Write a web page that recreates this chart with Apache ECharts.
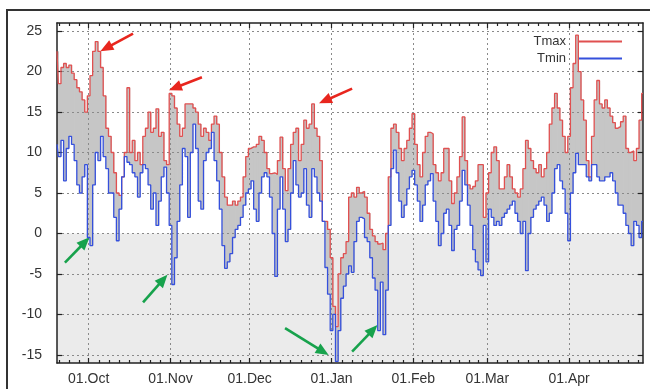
<!DOCTYPE html>
<html><head><meta charset="utf-8">
<script src="https://cdn.jsdelivr.net/npm/echarts@6/dist/echarts.min.js"></script>
<style>html,body{margin:0;padding:0;background:#fff}#c{width:650px;height:389px}</style>
</head><body><div id="c"></div><script>
// daily values, 19 Sep .. 29 Apr (index 0 = 19 Sep)
const tmax = [
  22.5, 18.5, 20.5, 21, 20.5, 20.8, 19.8, 19, 18, 17.5, 16.5, 15,
  17, 19.5, 22.5, 23.7, 22.5, 20.5, 17, 13, 12, 10, 7.5, 5, 4.7, 7, 10, 18, 10, 11.5, 9, 10, 8.5, 12, 13, 15, 12.5, 13, 15.4, 12, 12.5, 9, 8.5,
  17.3, 17, 15.5, 13.5, 12, 13, 16, 16, 16, 15.5, 15, 13.5, 12, 13, 12.5, 11.5, 13.5, 14.5, 13.5, 10, 7, 4.5, 3.5, 3.5, 4, 3.5, 4, 4.5, 7, 9.5,
  10.5, 10.7, 10.7, 11, 12, 11.5, 10, 8, 7.4, 7.5, 7.3, 9, 11.9, 8, 5.3, 8, 11, 12.5, 13, 9, 11, 14, 13, 13.5, 16, 13, 12, 9, 1.5, 1.5, 0.5,
  -3, -9, -11.5, -5, -3, -2.5, -1, 4.5, 5, 4.5, 5.7, 5, 5.2, 4.5, 2.5, 0.5, -0.3, -1, -1.3, -1.2, -2, 0, 7, 13, 13.5, 12.5, 10.5, 9, 10.5, 11.5, 13,
  14.8, 11, 8.5, 7, 10, 12, 12.5, 12.3, 8.5, 7.5, 6.5, 7.5, 10.5, 10.5, 6.5, 3.7, 5, 7, 9.5, 14.4, 9, 6, 5.5, 5.8, 6.5, 8.5, 8.5, 2,
  5, 7.5, 10, 10.7, 9, 5.5, 5.5, 7, 8.5, 7, 5.5, 5, 4.5, 5.5, 8, 11.5, 10.5, 9, 8, 7.5, 8.5, 7, 8, 10, 13.5, 15.5, 17.3, 15.5, 14, 12, 10,
  12, 18, 21, 24.5, 20, 16.5, 14, 9, 7, 12, 16.5, 18.9, 16, 15.5, 16.5, 15.5, 14.5, 13.7, 13, 13.2, 13.8, 14.5, 10.5, 10, 10.2, 9, 10.5, 14, 17.3
];
const tmin = [
  11, 9.5, 11.5, 6.5, 10.5, 12, 11, 9, 6, 5, 7, 8.5,
  -0.5, -1.5, 6, 10, 9, 12, 9.5, 8, 5, 5, 2, -0.9, 3, 7, 9.5, 8.8, 8.5, 7.5, 7, 4.5, 7.5, 8.5, 8, 6, 3, 5, 1, 4, 7, 8.2, 5,
  1, -6.3, -3, 1.5, 6, 10.5, 9.5, 2, 10, 13.5, 10.5, 4, 3, 9, 10, 10.5, 12.5, 9, 6.5, 3, -1.5, -4.3, -3.5, -2.5, -0.5, 0.5, 1, 2, 3.5, 5,
  5.5, 6.5, 3, 1.5, 5, 7, 7.5, 7, 4.5, 0, -5.3, 3, 7, 3, -1, 0.5, 5, 9, 6, 4.5, 5, 8, 3.5, 2, 8, 7, 5, 4, 1.5, -4.2, -7.5,
  -12, -10, -15.8, -12, -8, -6.5, -5, -4, -4.8, -1, 1.5, 2, 1.8, -0.5, -1, -3, -5.5, -7, -12, -6, -12.5, -7, 1, 8, 10.3, 7.5, 4, 2, 3.5, 5.5, 7,
  7.8, 6, 4, 1.5, 3.5, 6, 6.5, 7.4, 4, 1.5, -1.5, 0, 2.5, 3, 1, -2.1, 0.5, 1, 4, 7.8, 6, 3.5, 1, -2, -3.5, -4.5, -5.2, 1,
  -3.5, 3, 2, 1, 1.5, 1, 2, 2.5, 3, 3.5, 4, 2.5, 1.5, 0, 1.5, -4.6, 0, 2, 3, 3.5, 4, 4.5, 3.5, 1.5, 2.5, 5, 8, 8.5, 6.5, 5.5, 2.5,
  -0.9, 5, 7.5, 9.9, 8.5, 8.5, 8.5, 7, 6.5, 8.5, 8.5, 7, 6.5, 6.5, 7, 7, 7.5, 6.5, 5, 3.5, 3.5, 2.5, 1, 0, -1.5, 1.5, 1, -0.5, 1.5
];
const monthTickIdx = [12, 43, 73, 104, 135, 163, 194];
const monthTickLabels = ['01.Oct', '01.Nov', '01.Dec', '01.Jan', '01.Feb', '01.Mar', '01.Apr'];
const yTicks = [-15, -10, -5, 0, 5, 10, 15, 20, 25];
// annotation arrows [[dayIndex, value] tail, [dayIndex, value] head]
const redArrows = [
  [[28.8, 24.7], [18.6, 22.9]],
  [[54.9, 19.3], [44.7, 18.0]],
  [[111.8, 17.9], [101.5, 16.4]]
];
const greenArrows = [
  [[3.0, -3.6], [10.6, -1.05]],
  [[32.6, -8.5], [40.2, -5.7]],
  [[86.4, -11.7], [100.8, -14.6]],
  [[111.8, -14.6], [119.7, -11.9]]
];

const FONT = '"Liberation Sans", Arial, sans-serif';
const AX = '#222';
const xMax = tmax.length - 1;
const days = tmax.map((_, i) => i);
const bounds = [-18].concat(monthTickIdx, [224]);
const minorTicks = [];
for (let m = 0; m < bounds.length - 1; m++) {
  const a = bounds[m], b = bounds[m + 1];
  for (let k = 1; k < 8; k++) {
    const t = a + (b - a) * k / 8;
    if (t > 0 && t < xMax) minorTicks.push(t);
  }
}
const dotted = { color: '#8a8a8a', type: [2, 3], width: 1 };
const axLine = { show: true, onZero: false, lineStyle: { color: AX, width: 1.5 } };
function xAx(pos, major) {
  return {
    type: 'value', min: 0, max: xMax, position: pos, z: 3,
    axisLine: major ? axLine : { show: false, onZero: false },
    axisTick: { inside: true, length: major ? 5 : 3, customValues: major ? monthTickIdx : minorTicks, lineStyle: { color: AX, width: 1.2 } },
    axisLabel: { show: false },
    splitLine: { show: false }
  };
}
const xBottom = xAx('bottom', true);
xBottom.axisLabel = {
  show: true, customValues: monthTickIdx, margin: 9, fontSize: 14, color: '#333', fontFamily: FONT,
  formatter: v => monthTickLabels[monthTickIdx.indexOf(v)]
};
xBottom.splitLine = { show: true, lineStyle: dotted };

function arrowMark(list, color) {
  return {
    silent: true, animation: false,
    symbol: ['none', 'triangle'], symbolSize: [11, 13],
    lineStyle: { color: color, width: 2.6, type: 'solid' },
    itemStyle: { color: color },
    label: { show: false },
    emphasis: { disabled: true },
    data: list.map(a => [{ coord: a[0] }, { coord: a[1] }])
  };
}

const chart = echarts.init(document.getElementById('c'));
chart.setOption({
  animation: false,
  backgroundColor: '#fff',
  grid: { left: 57, right: 7, top: 23, bottom: 26, outerBoundsMode: 'none' },
  legend: {
    data: ['Tmax', 'Tmin'], orient: 'vertical', align: 'right', right: 22, top: 30,
    itemWidth: 44, itemHeight: 14, itemGap: 4,
    itemStyle: { opacity: 0 },
    lineStyle: { width: 2 },
    textStyle: { fontSize: 13, color: '#333', fontFamily: FONT, padding: [0, 7, 0, 0] }
  },
  xAxis: [xBottom, xAx('top', true), xAx('bottom', false), xAx('top', false)],
  yAxis: [
    {
      type: 'value', min: -16, max: 26, position: 'left', z: 3,
      axisLine: axLine,
      axisTick: { inside: true, length: 5, customValues: yTicks, lineStyle: { color: AX, width: 1.2 } },
      axisLabel: { customValues: yTicks, margin: 15, fontSize: 14, color: '#333', fontFamily: FONT },
      splitLine: { show: true, lineStyle: dotted }
    },
    {
      type: 'value', min: -16, max: 26, position: 'right', z: 3,
      axisLine: axLine,
      axisTick: { inside: true, length: 5, customValues: yTicks, lineStyle: { color: AX, width: 1.2 } },
      axisLabel: { show: false },
      splitLine: { show: false }
    }
  ],
  series: [
    {
      name: 'base', type: 'line', data: days.map(i => [i, tmin[i]]),
      symbol: 'none', lineStyle: { opacity: 0 }, silent: true, z: 0,
      markArea: { silent: true, itemStyle: { color: '#ebebeb' }, data: [[{ yAxis: -16 }, { yAxis: 0 }]] }
    },
    {
      name: 'band', type: 'custom', silent: true, z: 1,
      data: days.map(i => [i, tmin[i], tmax[i]]),
      encode: { x: 0, y: [1, 2] },
      renderItem: function (params, api) {
        const i = api.value(0);
        const pTop = api.coord([i - 0.5, api.value(2)]);
        const pBot = api.coord([i + 0.5, api.value(1)]);
        const cs = params.coordSys;
        const shape = echarts.graphic.clipRectByRect(
          { x: pTop[0], y: pTop[1], width: pBot[0] - pTop[0] + 0.7, height: pBot[1] - pTop[1] },
          { x: cs.x, y: cs.y, width: cs.width, height: cs.height }
        );
        return shape && { type: 'rect', shape: shape, style: { fill: '#c6c6c6' } };
      }
    },
    {
      name: 'Tmax', type: 'line', data: days.map(i => [i, tmax[i]]), step: 'middle', symbol: 'none',
      color: '#e05050', lineStyle: { color: '#e05050', width: 1.3 }, z: 5,
      markLine: arrowMark(redArrows, '#e8261e')
    },
    {
      name: 'Tmin', type: 'line', data: days.map(i => [i, tmin[i]]), step: 'middle', symbol: 'none',
      color: '#3550dc', lineStyle: { color: '#3550dc', width: 1.3 }, z: 5,
      markLine: arrowMark(greenArrows, '#17a24c')
    }
  ],
  graphic: [{
    type: 'rect', silent: true, z: 100,
    shape: { x: 7, y: 10, width: 700, height: 450 },
    style: { fill: 'none', stroke: '#333', lineWidth: 2 }
  }]
});
</script></body></html>
